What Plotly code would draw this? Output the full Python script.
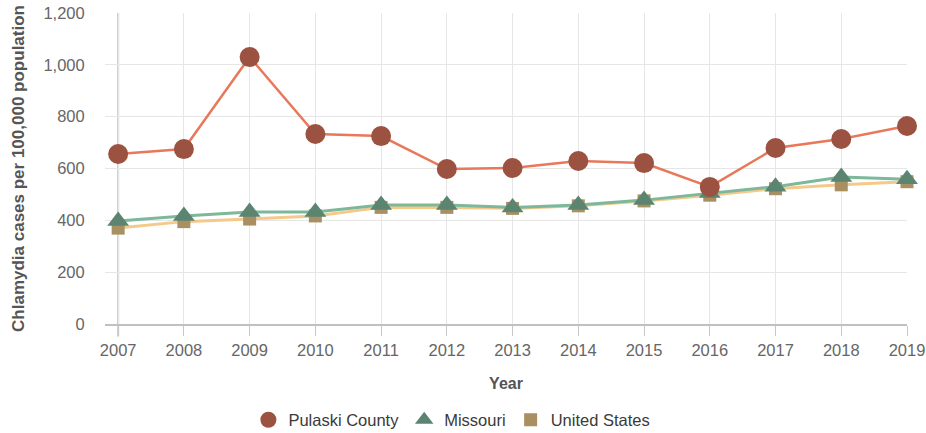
import plotly.graph_objects as go

years = list(range(2007, 2020))
pulaski = [656, 675, 1030, 733, 725, 598, 602, 629, 621, 529, 679, 714, 764]
missouri = [397, 417, 432, 432, 459, 459, 450, 459, 478, 505, 530, 567, 559]
united_states = [370, 395, 405, 417, 450, 450, 446, 456, 475, 497, 522, 537, 549]
y_ticks = [0, 200, 400, 600, 800, 1000, 1200]

FONT = "Liberation Sans, Arial, sans-serif"

series = [
    ("United States", united_states, "#F5C98A", 3, "square", 13, "#A89062", 3),
    ("Missouri", missouri, "#7DB89A", 3, "triangle-up", 19, "#5B8570", 2),
    ("Pulaski County", pulaski, "#E8785A", 2.5, "circle", 20, "#9C5240", 1),
]

fig = go.Figure()
for name, vals, lcol, lw, sym, msize, mcol, rank in series:
    fig.add_trace(go.Scatter(
        x=years, y=vals, name=name, mode="lines", legendgroup=name,
        line=dict(color=lcol, width=lw), showlegend=False,
        cliponaxis=False, hoverinfo="skip"))
    fig.add_trace(go.Scatter(
        x=years, y=vals, name=name, mode="markers", legendgroup=name,
        marker=dict(symbol=sym, size=msize, color=mcol),
        cliponaxis=False, legendrank=rank))

fig.add_shape(type="line", xref="x", yref="paper", x0=2007, x1=2007, y0=-0.04, y1=1,
              line=dict(color="#C8C8C8", width=2), layer="below")

fig.update_layout(
    width=926, height=433,
    margin=dict(l=105, r=19, t=13, b=109, autoexpand=False),
    paper_bgcolor="white", plot_bgcolor="white",
    font=dict(family=FONT, size=16.5, color="#666666"),
    showlegend=True,
    legend=dict(orientation="h", x=0.488, xanchor="center", xref="container",
                y=0.030, yanchor="middle", yref="container",
                font=dict(size=16.5, color="#3A3A3A"),
                itemclick=False, itemdoubleclick=False),
    hovermode="closest",
)
fig.update_xaxes(
    range=[2006.8, 2019], tickmode="array", tickvals=years,
    ticktext=[str(y) for y in years],
    showgrid=True, gridcolor="#E6E6E6", gridwidth=1,
    showline=True, linecolor="#C0C0C0", linewidth=2,
    ticks="outside", ticklen=10, tickcolor="#C8C8C8", tickwidth=1,
    tickfont=dict(size=16.5, color="#666666"),
    zeroline=False, automargin=False,
    title=dict(text="<b>Year</b>", font=dict(size=16, color="#555555"), standoff=20),
)
fig.update_yaxes(
    range=[0, 1200], tickmode="array", tickvals=y_ticks,
    ticktext=[f"{v:,}" for v in y_ticks],
    showgrid=True, gridcolor="#E6E6E6", gridwidth=1,
    showline=False, zeroline=False, automargin=False,
    ticks="outside", ticklen=16, tickcolor="rgba(0,0,0,0)",
    tickfont=dict(size=16.5, color="#666666"),
    title=dict(text="<b>Chlamydia cases per 100,000 population</b>",
               font=dict(size=17, color="#555555"), standoff=14),
)

fig.write_html(
    "out.html",
    config={"displayModeBar": False},
    post_script="document.body.style.margin='0';document.body.style.overflow='hidden';",
)
